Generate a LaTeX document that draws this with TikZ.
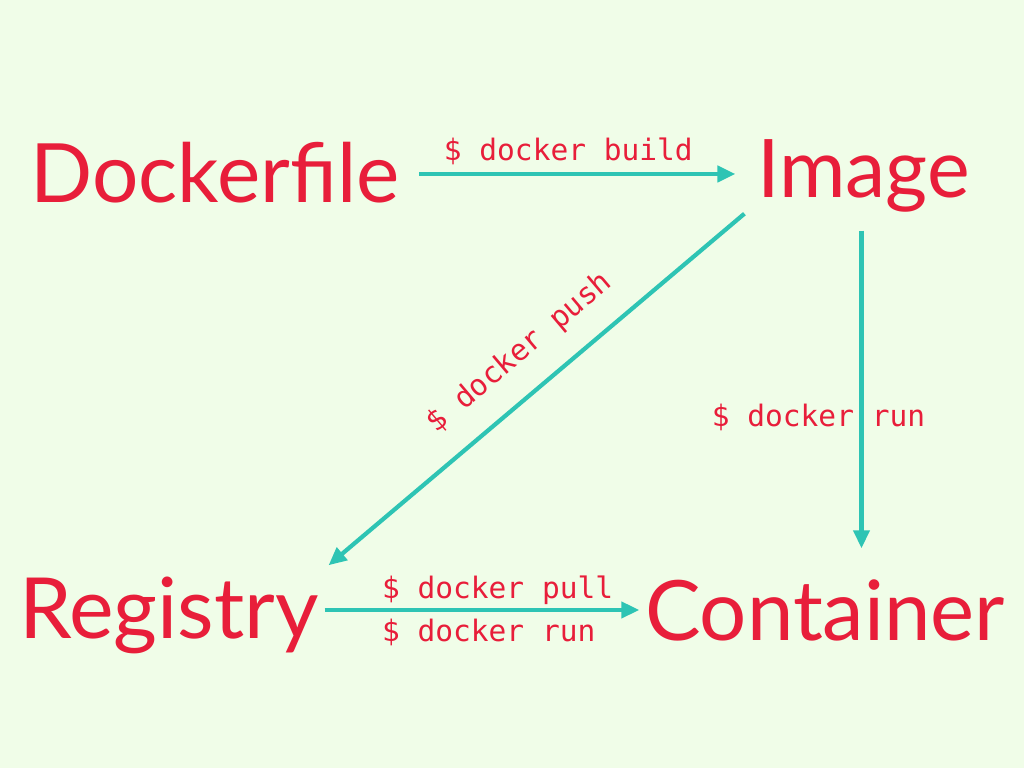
\documentclass[tikz,border=0pt]{standalone}
\usepackage{fontspec}
\setmainfont{Lato}
\setmonofont{DejaVu Sans Mono}
\usepackage{xcolor}
\definecolor{vermelho}{RGB}{232,30,58}
\definecolor{turquesa}{RGB}{46,196,180}
\definecolor{fundo}{RGB}{240,253,232}
\usepackage{tikz}
\usetikzlibrary{arrows.meta}

\begin{document}
\begin{tikzpicture}[
    titulo/.style={font=\fontsize{#1}{28}\selectfont,text=vermelho,
      inner sep=0pt,text height=0.58cm,text depth=0pt,anchor=base},
    titulo/.default=23.5,
    comando/.style={font=\ttfamily\fontsize{8.4}{10}\selectfont,text=vermelho},
    seta/.style={-{Triangle[length=1.8mm,width=1.6mm]},line width=1.2pt,color=turquesa}
    ]
    \useasboundingbox[fill=fundo] (0,0) rectangle (10.24,7.68);

    \node[titulo=23.3] (dockerfile) at (2.15,5.65) {Dockerfile};
    \node[titulo=23]   (image)      at (8.635,5.70) {Image};
    \node[titulo=24]   (registry)   at (1.69,1.29) {Registry};
    \node[titulo=23.7] (container)  at (8.25,1.27) {Container};

    \draw[seta,shorten <=0.19cm,shorten >=0.21cm] (dockerfile.east) -- (dockerfile.east -| image.west)
      node[comando,midway,above,xshift=-0.1cm,yshift=-0.05cm] {\$ docker build};
    \draw[seta,shorten <=0.32cm,shorten >=0.34cm] ([xshift=-0.02cm]image.south) -- ([xshift=-0.02cm]image.south |- container.north)
      node[comando,pos=0.57,xshift=-0.43cm] {\$ docker run};
    \draw[seta] ([shift={(-0.12,-0.15)}]image.south west) -- ([shift={(0.09,0.15)}]registry.north east)
      node[comando,pos=0.48,sloped,above=3pt] {\$ docker push};

    % pull + run
    \draw[seta,shorten <=0.05cm,shorten >=0.05cm] (registry.east) -- (registry.east -| container.west)
      node[comando,pos=0.15,anchor=south west,yshift=-0.08cm] {\$ docker pull}
      node[comando,pos=0.15,anchor=north west,yshift=0.05cm] {\$ docker run};
  \end{tikzpicture}
\end{document}
